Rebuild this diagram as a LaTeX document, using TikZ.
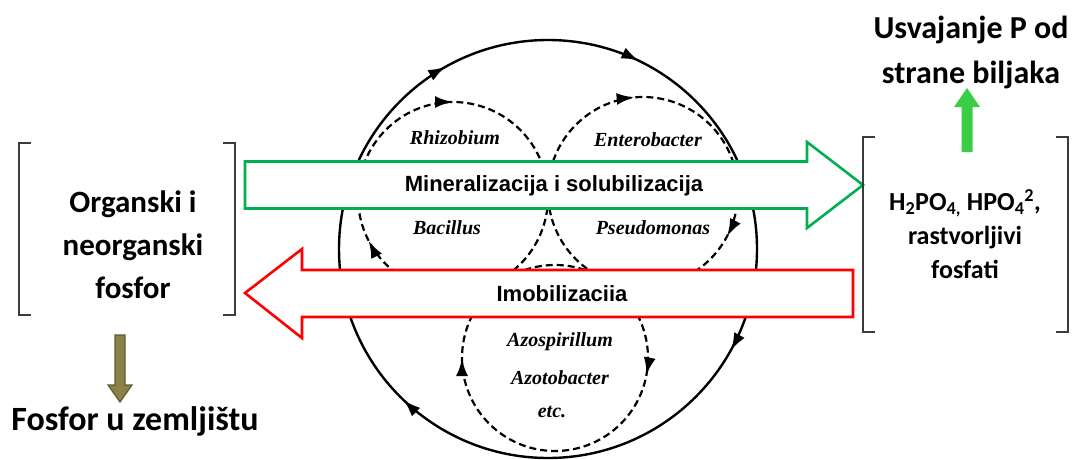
\documentclass[tikz,border=0pt]{standalone}
\usepackage{fontspec}
\setmainfont{Carlito}
\newfontfamily\bandfont{Liberation Sans}
\newfontfamily\bugfont{Liberation Serif}
\usetikzlibrary{arrows.meta,decorations.markings}

\definecolor{mingreen}{RGB}{0,176,80}
\definecolor{imored}{RGB}{255,0,0}
\definecolor{plantgreen}{RGB}{60,205,70}
\definecolor{soilolive}{RGB}{140,130,72}
\definecolor{soiledge}{RGB}{95,90,50}
\definecolor{brkgray}{RGB}{60,60,60}

\begin{document}
\begin{tikzpicture}[x=1pt, y=1pt,
  ring/.style={line width=2.4pt},
  dring/.style={line width=2.2pt, dash pattern=on 7pt off 4pt},
  brk/.style={line width=2pt, draw=brkgray},
  lbl/.style={font=\bfseries\fontsize{31}{43}\selectfont, align=center, inner sep=0pt},
  sublbl/.style={font=\bfseries\fontsize{26}{34}\selectfont, align=center, inner sep=0pt},
  head/.style={font=\bfseries\fontsize{32}{45}\selectfont, align=center, inner sep=0pt},
  bug/.style={font=\bugfont\bfseries\itshape\fontsize{20}{23}\selectfont, inner sep=0pt},
  bandtxt/.style={font=\bandfont\bfseries\fontsize{22}{26}\selectfont, inner sep=0pt},
  mineral/.style={line width=2.6pt, draw=mingreen, fill=white, line join=miter},
  immob/.style={line width=2.6pt, draw=imored, fill=white, line join=miter},
]
\useasboundingbox (0,0) rectangle (1078,459);

% centres of the cycles
\coordinate (hub) at (548,210);
\coordinate (c1) at (453,262);
\coordinate (c2) at (643,267);
\coordinate (c3) at (555,101);

% outer cycle
\draw[ring, postaction={decorate}, decoration={markings,
    mark=at position 0.081 with {\arrow[scale=1.5]{Latex[length=12pt,width=8pt]}},
    mark=at position 0.372 with {\arrow[scale=1.5]{Latex[length=12pt,width=8pt]}},
    mark=at position 0.669 with {\arrow[scale=1.5]{Latex[length=12pt,width=8pt]}},
    mark=at position 0.822 with {\arrow[scale=1.5]{Latex[length=12pt,width=8pt]}}}]
  (hub) ++(0:209pt) arc[start angle=0, end angle=-360, radius=209pt];

% inner cycles
\draw[dring, postaction={decorate}, decoration={markings,
    mark=at position 0.425 with {\arrow[scale=1.5]{Latex[length=12pt,width=8pt]}},
    mark=at position 0.75 with {\arrow[scale=1.5]{Latex[length=12pt,width=8pt]}}}]
  (c1) ++(0:95pt) arc[start angle=0, end angle=-360, radius=95pt];
\draw[dring, postaction={decorate}, decoration={markings,
    mark=at position 0.078 with {\arrow[scale=1.5]{Latex[length=12pt,width=8pt]}},
    mark=at position 0.736 with {\arrow[scale=1.5]{Latex[length=12pt,width=8pt]}}}]
  (c2) ++(0:95pt) arc[start angle=0, end angle=-360, radius=95pt];
\draw[dring, postaction={decorate}, decoration={markings,
    mark=at position 0.03 with {\arrow[scale=1.5]{Latex[length=12pt,width=8pt]}},
    mark=at position 0.5 with {\arrow[scale=1.5]{Latex[length=12pt,width=8pt]}}}]
  (c3) ++(0:93pt) arc[start angle=0, end angle=-360, radius=93pt];

\node[bug] (rhiz) at (455,321) {Rhizobium};
\node[bug] (entero) at (648,319) {Enterobacter};
\node[bug] (bacil) at (447,231) {Bacillus};
\node[bug] (pseudo) at (653,231) {Pseudomonas};
\node[bug] (azosp) at (560,117) {Azospirillum};
\node[bug] (azoto) at (560,81) {Azotobacter};
\node[bug] (etc) at (552,47) {etc.};

% block arrows
\draw[mineral] (245,250.5) -- (807,250.5) -- (807,231) -- (863,274)
  -- (807,317) -- (807,297.5) -- (245,297.5) -- cycle;
\draw[immob] (853,142) -- (302,142) -- (302,121) -- (245,166)
  -- (302,210) -- (302,189) -- (853,189) -- cycle;
\node[bandtxt] (minl) at (554,273) {Mineralizacija i solubilizacija};
\node[bandtxt] (imol) at (562,165) {Imobilizaciia};

% brackets
\draw[brk] (31,316) -- (19,316) -- (19,144) -- (31,144);
\draw[brk] (223,316) -- (235,316) -- (235,144) -- (223,144);
\draw[brk] (875,322) -- (863,322) -- (863,127) -- (875,127);
\draw[brk] (1056,322) -- (1068,322) -- (1068,127) -- (1056,127);

\node[lbl] (orgp) at (133,214) {Organski i\\neorganski\\fosfor};
\node[sublbl] (solp) at (965,225) {H\textsubscript{2}PO\textsubscript{4,} HPO\textsubscript{4}\textsuperscript{2},\\rastvorljivi\\fosfati};
\node[head] (usv) at (971,407) {Usvajanje P od\\strane biljaka};
\node[head, font=\bfseries\fontsize{34}{45}\selectfont, anchor=base] (fzem) at (135,29) {Fosfor u zemljištu};

% small arrows
\draw[line width=1.2pt, draw=soiledge, fill=soilolive, line join=miter]
  (115,124) -- (125,124) -- (125,74) -- (132,74) -- (120,57)
  -- (108,74) -- (115,74) -- cycle;
\fill[plantgreen] (961.5,307) -- (972.5,307) -- (972.5,352) -- (980,352)
  -- (967,371) -- (954,352) -- (961.5,352) -- cycle;
\end{tikzpicture}
\end{document}
